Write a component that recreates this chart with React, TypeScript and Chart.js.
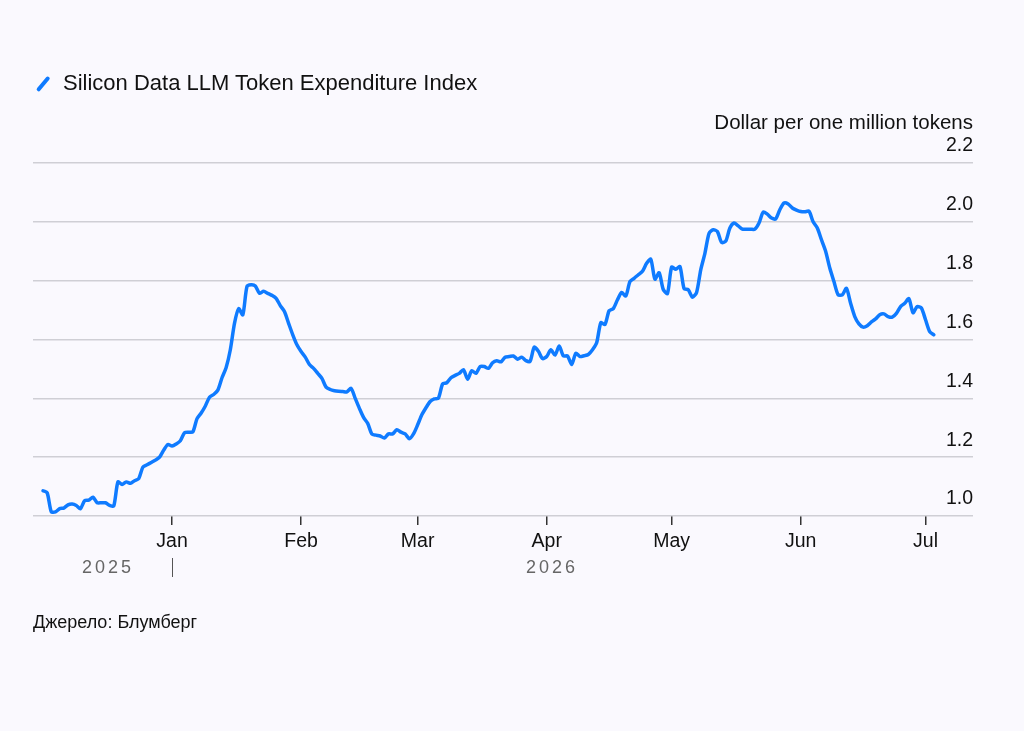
import React, { useEffect, useRef } from "react";
import { Chart, registerables } from "chart.js";

Chart.register(...registerables);

// Daily values, first point = 2025-12-01 (day offsets counted from 2026-01-01)
const FIRST_DAY = -31;
const indexValues: number[] = [
  1.086, 1.079, 1.014, 1.014, 1.025, 1.027, 1.038, 1.041, 1.036, 1.025,
  1.052, 1.054, 1.064, 1.045, 1.045, 1.045, 1.036, 1.034, 1.116, 1.107,
  1.116, 1.111, 1.120, 1.127, 1.166, 1.174, 1.182, 1.190, 1.200, 1.224,
  1.243, 1.238, 1.245, 1.256, 1.283, 1.285, 1.286, 1.331, 1.350, 1.374,
  1.404, 1.413, 1.428, 1.470, 1.505, 1.565, 1.655, 1.705, 1.684, 1.780,
  1.786, 1.782, 1.757, 1.764, 1.757, 1.750, 1.740, 1.715, 1.695, 1.655,
  1.616, 1.582, 1.559, 1.540, 1.515, 1.502, 1.485, 1.468, 1.438, 1.430,
  1.426, 1.424, 1.423, 1.422, 1.434, 1.400, 1.366, 1.335, 1.315, 1.279,
  1.275, 1.272, 1.265, 1.279, 1.279, 1.293, 1.285, 1.279, 1.263, 1.279,
  1.310, 1.344, 1.368, 1.389, 1.398, 1.401, 1.449, 1.453, 1.470, 1.478,
  1.485, 1.497, 1.465, 1.494, 1.485, 1.508, 1.508, 1.502, 1.521, 1.528,
  1.524, 1.540, 1.542, 1.544, 1.533, 1.540, 1.528, 1.526, 1.574, 1.560,
  1.535, 1.542, 1.565, 1.547, 1.578, 1.544, 1.544, 1.515, 1.553, 1.542,
  1.545, 1.549, 1.565, 1.589, 1.657, 1.651, 1.698, 1.705, 1.735, 1.760,
  1.748, 1.797, 1.808, 1.820, 1.832, 1.859, 1.873, 1.805, 1.827, 1.770,
  1.756, 1.846, 1.839, 1.848, 1.773, 1.769, 1.744, 1.760, 1.837, 1.893,
  1.961, 1.973, 1.967, 1.930, 1.934, 1.979, 1.996, 1.986, 1.975, 1.975,
  1.975, 1.975, 1.996, 2.033, 2.026, 2.013, 2.010, 2.041, 2.064, 2.061,
  2.047, 2.040, 2.035, 2.034, 2.036, 2.000, 1.979, 1.939, 1.900, 1.843,
  1.797, 1.752, 1.752, 1.774, 1.723, 1.678, 1.653, 1.642, 1.647, 1.660,
  1.670, 1.684, 1.687, 1.678, 1.676, 1.689, 1.712, 1.723, 1.739, 1.691,
  1.712, 1.707, 1.667, 1.627, 1.616,
];

const monthTickDays = [0, 31, 59, 90, 120, 151, 181];
const monthTickLabels = ["Jan", "Feb", "Mar", "Apr", "May", "Jun", "Jul"];
const yTickValues = [1.0, 1.2, 1.4, 1.6, 1.8, 2.0, 2.2];

const SERIES_LABEL = "Silicon Data LLM Token Expenditure Index";
const AXIS_TITLE = "Dollar per one million tokens";
const SOURCE = "Джерело: Блумберг";
const YEAR_LEFT = "2025";
const YEAR_RIGHT = "2026";

const BLUE = "#0f7bff";
const BG = "#faf9fe";
const FONT = "'Liberation Sans', Arial, Helvetica, sans-serif";

export default function App() {
  const canvasRef = useRef<HTMLCanvasElement | null>(null);

  useEffect(() => {
    const canvas = canvasRef.current;
    if (!canvas) return;
    const chart = new Chart(canvas, {
      type: "line",
      data: {
        datasets: [
          {
            label: SERIES_LABEL,
            data: indexValues.map((v, i) => ({ x: FIRST_DAY + i, y: v })),
            borderColor: BLUE,
            borderWidth: 3.5,
            pointRadius: 0,
            tension: 0.25,
            borderCapStyle: "round",
            borderJoinStyle: "round",
            fill: false,
          },
        ],
      },
      options: {
        responsive: false,
        animation: false,
        layout: { padding: { left: 33, right: 51, top: 163, bottom: 155 } },
        plugins: { legend: { display: false }, tooltip: { enabled: false } },
        scales: {
          x: {
            type: "linear",
            min: -33.4,
            max: 192.4,
            afterBuildTicks: (s: any) => {
              s.ticks = monthTickDays.map((v) => ({ value: v }));
            },
            afterFit: (s: any) => {
              s.height = 60;
            },
            ticks: {
              autoSkip: false,
              maxRotation: 0,
              padding: 5,
              color: "#111",
              font: { family: FONT, size: 19.5 },
              callback: (value: any) => {
                const i = monthTickDays.indexOf(Number(value));
                return i >= 0 ? monthTickLabels[i] : "";
              },
            },
            grid: {
              drawOnChartArea: false,
              drawTicks: true,
              tickLength: 9,
              color: "#333",
              lineWidth: 1.5,
            },
            border: { display: false },
          },
          y: {
            type: "linear",
            position: "right",
            min: 1.0,
            max: 2.2,
            afterBuildTicks: (s: any) => {
              s.ticks = yTickValues.map((v) => ({ value: v }));
            },
            afterFit: (s: any) => {
              s.width = 0;
            },
            ticks: {
              mirror: true,
              padding: 0,
              labelOffset: -17,
              color: "#111",
              font: { family: FONT, size: 19.5 },
              callback: (value: any) => Number(value).toFixed(1),
            },
            grid: { drawTicks: false, color: "#cfcfd5", lineWidth: 1.5 },
            border: { display: false },
          },
        },
      },
    });
    return () => chart.destroy();
  }, []);

  const text: React.CSSProperties = {
    position: "absolute",
    fontFamily: FONT,
    whiteSpace: "nowrap",
    color: "#111",
  };

  return (
    <div
      style={{
        position: "absolute",
        left: 0,
        top: 0,
        width: 1024,
        height: 731,
        background: BG,
        overflow: "hidden",
      }}
    >
      <canvas
        ref={canvasRef}
        width={1024}
        height={731}
        style={{ position: "absolute", left: 0, top: 0, width: 1024, height: 731 }}
      />
      {/* legend */}
      <div style={{ position: "absolute", left: 35, top: 76, width: 15, height: 15 }}>
        <div
          style={{
            position: "absolute",
            left: -1.5,
            top: 6,
            width: 18,
            height: 3.5,
            background: BLUE,
            borderRadius: 2,
            transform: "rotate(-50deg)",
          }}
        />
      </div>
      <div style={{ ...text, left: 63, top: 70, fontSize: 22, lineHeight: "26px" }}>
        {SERIES_LABEL}
      </div>
      {/* axis title */}
      <div
        style={{
          ...text,
          right: 51,
          top: 110,
          fontSize: 20.5,
          lineHeight: "24px",
          textAlign: "right",
        }}
      >
        {AXIS_TITLE}
      </div>
      {/* year labels */}
      <div
        style={{
          ...text,
          left: 82,
          top: 556,
          fontSize: 18,
          lineHeight: "22px",
          color: "#666",
          letterSpacing: "3px",
        }}
      >
        {YEAR_LEFT}
      </div>
      <div
        style={{
          position: "absolute",
          left: 172,
          top: 558,
          width: 1.2,
          height: 19,
          background: "#555",
        }}
      />
      <div
        style={{
          ...text,
          left: 526,
          top: 556,
          fontSize: 18,
          lineHeight: "22px",
          color: "#666",
          letterSpacing: "3px",
        }}
      >
        {YEAR_RIGHT}
      </div>
      {/* source */}
      <div style={{ ...text, left: 33, top: 611, fontSize: 18, lineHeight: "22px" }}>
        {SOURCE}
      </div>
    </div>
  );
}
